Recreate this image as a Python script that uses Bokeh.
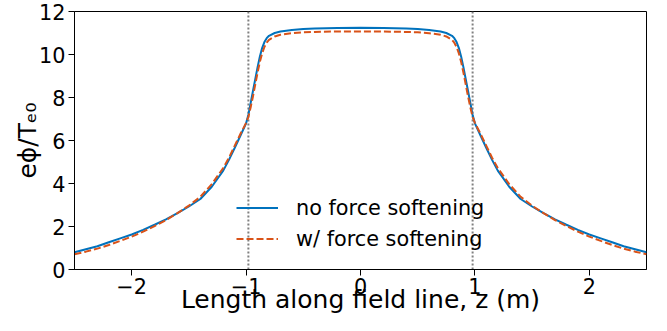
from bokeh.plotting import figure
from bokeh.models import Range1d, FixedTicker, Span, Legend, LegendItem
from bokeh.embed import file_html
from bokeh.resources import INLINE

# ---- data ----
z = [-2.5, -2.4, -2.3, -2.2, -2.1, -2.0, -1.9, -1.8, -1.7, -1.6, -1.5, -1.4, -1.3, -1.2,
     -1.15, -1.1, -1.05, -1.0, -0.98, -0.96, -0.94, -0.92, -0.90, -0.88, -0.86, -0.84,
     -0.82, -0.80, -0.75, -0.70, -0.6, -0.5, -0.4, -0.2, 0.0,
     0.2, 0.4, 0.5, 0.6, 0.70, 0.75, 0.80, 0.82, 0.84, 0.86, 0.88, 0.90, 0.92, 0.94,
     0.96, 0.98, 1.0, 1.05, 1.1, 1.15, 1.2, 1.3, 1.4, 1.5, 1.6, 1.7, 1.8, 1.9, 2.0,
     2.1, 2.2, 2.3, 2.4, 2.5]

phi_no_soft = [0.80, 0.94, 1.08, 1.27, 1.45, 1.63, 1.84, 2.08, 2.33, 2.62, 2.93, 3.28, 3.85, 4.60,
               5.10, 5.65, 6.22, 6.80, 7.20, 7.75, 8.30, 8.85, 9.40, 9.90, 10.30, 10.58,
               10.76, 10.87, 11.00, 11.07, 11.14, 11.19, 11.21, 11.23, 11.24,
               11.23, 11.21, 11.19, 11.14, 11.07, 11.00, 10.87, 10.76, 10.58, 10.30, 9.90, 9.40, 8.85, 8.30,
               7.75, 7.20, 6.80, 6.22, 5.65, 5.10, 4.60, 3.85, 3.28, 2.93, 2.62, 2.33, 2.08, 1.84, 1.63,
               1.45, 1.27, 1.08, 0.94, 0.80]

phi_soft = [0.71, 0.83, 0.97, 1.14, 1.33, 1.53, 1.76, 2.02, 2.30, 2.62, 2.97, 3.38, 3.97, 4.72,
            5.20, 5.75, 6.30, 6.82, 7.10, 7.55, 8.05, 8.60, 9.15, 9.65, 10.05, 10.35,
            10.55, 10.68, 10.84, 10.92, 10.99, 11.03, 11.05, 11.07, 11.07,
            11.07, 11.05, 11.03, 10.99, 10.92, 10.84, 10.68, 10.55, 10.35, 10.05, 9.65, 9.15, 8.60, 8.05,
            7.55, 7.10, 6.82, 6.30, 5.75, 5.20, 4.72, 3.97, 3.38, 2.97, 2.62, 2.30, 2.02, 1.76, 1.53,
            1.33, 1.14, 0.97, 0.83, 0.71]

mirror_z = [-0.98, 0.98]
x_ticks = [-2, -1, 0, 1, 2]
x_tick_labels = ["\u22122", "\u22121", "0", "1", "2"]
y_ticks = [0, 2, 4, 6, 8, 10, 12]
series_labels = ["no force softening", "w/ force softening"]
x_label = "Length along field line, z (m)"
y_label = "e\u03d5/T\u2091\u2080"

FONT = "DejaVu Sans"
BLUE = "#0072BD"
ORANGE = "#D95319"
TICK_SIZE = "20.8px"
LABEL_SIZE = "25px"

p = figure(width=667, height=331, output_backend="svg", toolbar_location=None,
           x_range=Range1d(-2.5, 2.5), y_range=Range1d(0, 12),
           min_border_left=74, min_border_right=21, min_border_top=11, min_border_bottom=62)
p.grid.visible = False
p.outline_line_color = "black"
p.outline_line_width = 1
p.background_fill_color = "white"
p.border_fill_color = "white"

for ax in (p.xaxis[0], p.yaxis[0]):
    ax.axis_line_color = "black"
    ax.major_tick_line_color = "black"
    ax.major_tick_out = 6
    ax.major_tick_in = 0
    ax.minor_tick_line_color = None
    ax.major_label_text_font = FONT
    ax.major_label_text_font_size = TICK_SIZE
    ax.major_label_text_color = "black"
    ax.axis_label_text_font = FONT
    ax.axis_label_text_font_size = LABEL_SIZE
    ax.axis_label_text_font_style = "normal"
    ax.axis_label_text_color = "black"

p.xaxis.ticker = FixedTicker(ticks=x_ticks)
p.xaxis.major_label_overrides = {t: s for t, s in zip(x_ticks, x_tick_labels)}
p.xaxis.major_label_standoff = 2
p.xaxis.axis_label = x_label
p.xaxis.axis_label_standoff = -12

p.yaxis.ticker = FixedTicker(ticks=y_ticks)
p.yaxis.major_label_standoff = 3
p.yaxis.axis_label = y_label
p.yaxis.axis_label_standoff = -6

for zm in mirror_z:
    p.add_layout(Span(location=zm, dimension="height", line_color="#808080",
                      line_width=2, line_dash="2 2", level="underlay"))

r1 = p.line(z, phi_no_soft, line_color=BLUE, line_width=2)
r2 = p.line(z, phi_soft, line_color=ORANGE, line_width=2, line_dash="7 3")

legend = Legend(items=[LegendItem(label=series_labels[0], renderers=[r1]),
                       LegendItem(label=series_labels[1], renderers=[r2])],
                location=(162, 15), orientation="vertical",
                border_line_color=None, background_fill_alpha=0,
                label_text_font=FONT, label_text_font_size=TICK_SIZE,
                label_text_color="black",
                glyph_width=42, glyph_height=31, label_height=31,
                label_standoff=18, spacing=0, padding=0, margin=0)
p.add_layout(legend, "center")

open("out.html", "w").write(file_html(p, INLINE))
